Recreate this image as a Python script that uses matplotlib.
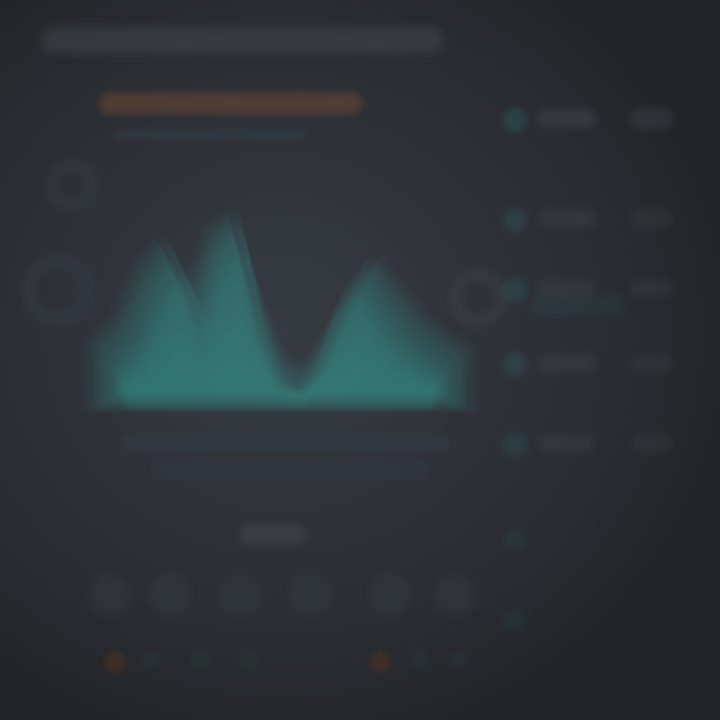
import numpy as np
import matplotlib
matplotlib.use("Agg")
import matplotlib.pyplot as plt
from matplotlib.patches import Circle, Wedge

# area chart values (blurred dashboard)
area_x = [0, 1, 2, 3, 4, 5, 6, 7, 8, 9, 10, 11, 12, 13, 14, 15, 16]
area_y = [35, 60, 110, 135, 85, 145, 160, 80, 25, 12, 45, 90, 118, 90, 62, 45, 30]

# right side panel rows (y in pixels) and how visible each one is
panel_rows = [120, 220, 290, 365, 445, 540, 620]
panel_level = [1.0, 0.8, 0.75, 0.8, 0.7, 0.4, 0.35]

# bottom row of soft blobs
bottom_x = [110, 170, 240, 310, 390, 455]

fig = plt.figure(figsize=(7.2, 7.2), dpi=100)
bg = fig.add_axes([0, 0, 1, 1])
bg.set_xlim(0, 720)
bg.set_ylim(720, 0)
bg.axis("off")

# background with soft vignette
yy, xx = np.mgrid[0:720:4, 0:720:4]
d = np.sqrt(((xx - 280) / 470.0) ** 2 + ((yy - 330) / 440.0) ** 2)
base = np.array([0.212, 0.230, 0.258])
edge = np.array([0.135, 0.142, 0.155])
t = np.clip(d, 0, 1)[..., None] ** 1.3
bg.imshow(base * (1 - t) + edge * t, extent=[0, 720, 720, 0], zorder=0)


def layer_alpha(target, n):
    return 1 - (1 - target) ** (1.0 / n)


def soft_seg(x0, y0, x1, y1, h, color, target, spread=10, n=8, z=2):
    a = layer_alpha(target, n)
    for k in range(n):
        w = h + 2 * spread * (1 - k / (n - 1))
        bg.plot([x0, x1], [y0, y1], color=color, lw=w * 0.72, alpha=a,
                solid_capstyle="round", zorder=z)


def soft_bar(x0, x1, y, h, color, target, spread=10, n=8, z=2):
    soft_seg(x0, y, x1, y, h, color, target, spread, n, z)


def soft_dot(cx, cy, r, color, target, spread=10, n=8, z=2):
    a = layer_alpha(target, n)
    for k in range(n):
        rr = r + spread * (1 - k / (n - 1))
        bg.add_patch(Circle((cx, cy), rr, fc=color, ec="none", alpha=a, zorder=z))


def soft_ring(cx, cy, r, color, target, width=6, spread=6, n=6, z=2):
    a = layer_alpha(target, n)
    for k in range(n):
        s = spread * (1 - k / (n - 1))
        bg.add_patch(Wedge((cx, cy), r + s, 0, 360, width=width + 2 * s,
                           fc=color, ec="none", alpha=a, zorder=z))


# chart panel, slightly lighter and bluer
soft_seg(200, 260, 380, 260, 220, "#363d48", 0.3, spread=60, n=12, z=1)

# title blob
soft_bar(55, 430, 40, 12, "#4b4f54", 0.5, spread=12)
# orange header bar + sub line
soft_bar(110, 350, 103, 10, "#785136", 0.5, spread=10)
soft_bar(120, 300, 134, 4, "#3c4550", 0.45, spread=6)

# faint rings at the sides
soft_ring(72, 185, 22, "#41474f", 0.3, spread=8)
soft_ring(58, 290, 32, "#41474f", 0.3, spread=8)
soft_ring(478, 298, 26, "#444a53", 0.35, spread=8)

# lines and label under chart
soft_bar(130, 440, 442, 6, "#3f4650", 0.45, spread=8)
soft_bar(160, 420, 470, 6, "#3e444e", 0.4, spread=8)
soft_bar(250, 295, 534, 8, "#4d5157", 0.5, spread=10)

# right panel rows
for ry, lv in zip(panel_rows, panel_level):
    soft_dot(515, ry, 7, "#356a6d", 0.4 * lv, spread=9)
    soft_bar(548, 585, ry - 2, 8, "#4a4e53", 0.5 * lv, spread=10)
    soft_bar(640, 662, ry - 2, 8, "#46494e", 0.45 * lv, spread=10)
soft_bar(540, 615, 305, 10, "#33565a", 0.25, spread=10)

# bottom blobs
for bx in bottom_x:
    soft_dot(bx, 595, 12, "#3c4148", 0.5, spread=14)
for ox in [115, 380]:
    soft_dot(ox, 662, 5, "#6a3c26", 0.4, spread=8)
for bx in [150, 200, 250, 420, 458]:
    soft_dot(bx, 660, 5, "#2f4849", 0.3, spread=8)

# main area chart
ax = fig.add_axes([110 / 720, 1 - 400 / 720, 340 / 720, 200 / 720])
ax.set_xlim(area_x[0], area_x[-1])
ax.set_ylim(0, 190)
ax.axis("off")
ax.patch.set_alpha(0)

xs = np.array(area_x, dtype=float)
vs = np.array(area_y, dtype=float)
n = 12
a = layer_alpha(0.5, n / 2.0)
for k in range(n):
    s = 22 * (1 - 2 * k / (n - 1))
    sx = 1 + s / 170.0
    for dx in (-0.25, 0.25):
        ax.fill_between(8 + (xs - 8) * sx + dx, -s * 0.5, vs + s, color="#3a7f7d",
                        alpha=a / 2, lw=0, clip_on=False)
# brighter lower part
n = 10
a = layer_alpha(0.35, n)
for k in range(n):
    f = 0.85 - 0.07 * k
    ax.fill_between(8 + (xs - 8) * (0.98 - 0.01 * k), 6 - 2 * k, vs * f,
                    color="#48a098", alpha=a, lw=0, clip_on=False)

fig.savefig("out.png", dpi=100, facecolor="#26292d")
